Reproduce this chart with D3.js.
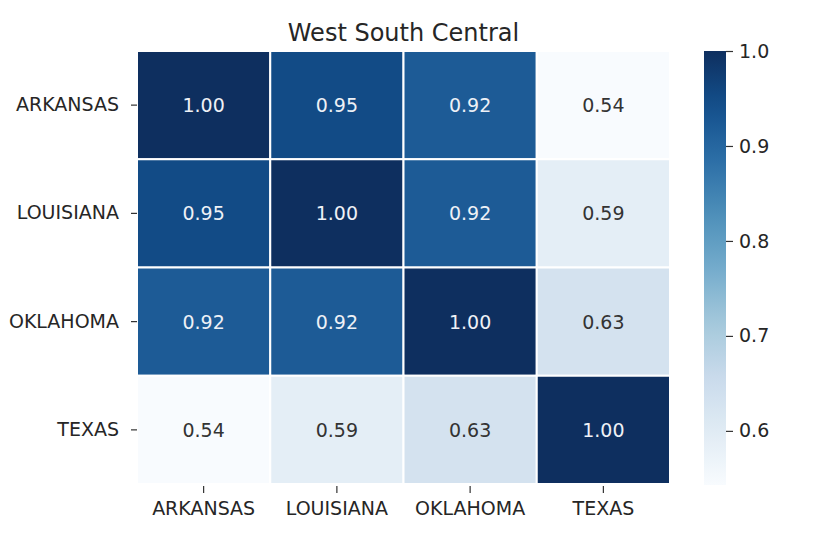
<!DOCTYPE html>
<html><head><meta charset="utf-8">
<script src="https://cdn.jsdelivr.net/npm/d3@7"></script>
<style>body{margin:0;background:#fff;} text{font-family:"DejaVu Sans",sans-serif;}</style>
</head><body>
<svg id="c" width="832" height="544"></svg>
<script>
const title = "West South Central";
const states = ["ARKANSAS","LOUISIANA","OKLAHOMA","TEXAS"];
const corr = [
  [1.00,0.95,0.92,0.54],
  [0.95,1.00,0.92,0.59],
  [0.92,0.92,1.00,0.63],
  [0.54,0.59,0.63,1.00]
];
const cbarTicks = [0.6,0.7,0.8,0.9,1.0];
const vmin = 0.543, vmax = 1.0;
const bluesStops = ["#f7fbff","#deebf7","#c6dbef","#9ecae1","#6baed6","#4292c6","#2171b5","#08519c","#08306b"];

const svg = d3.select("#c");
const L=137, R=670, T=51, B=484;
const x = d3.scaleBand().domain(states).range([L,R]).padding(0);
const y = d3.scaleBand().domain(states).range([T,B]).padding(0);
// slightly desaturated Blues to match the reference rendering
const desat = c => { const r=d3.rgb(c); const g=0.3*r.r+0.59*r.g+0.11*r.b; const k=0.18;
  return d3.rgb(r.r*(1-k)+g*k, r.g*(1-k)+g*k, r.b*(1-k)+g*k).formatHex(); };
const interp = d3.piecewise(d3.interpolateRgb, bluesStops.map(desat));
const norm = d3.scaleLinear().domain([vmin,vmax]).range([0,1]).clamp(true);
const color = v => interp(norm(v));

const cells = [];
corr.forEach((row,i)=>row.forEach((v,j)=>cells.push({r:states[i],c:states[j],v})));

svg.append("g").selectAll("rect").data(cells).join("rect")
  .attr("x",d=>x(d.c)).attr("y",d=>y(d.r))
  .attr("width",x.bandwidth()).attr("height",y.bandwidth())
  .attr("fill",d=>color(d.v)).attr("stroke","#fff").attr("stroke-width",2);

svg.append("g").selectAll("text").data(cells).join("text")
  .attr("x",d=>x(d.c)+x.bandwidth()/2).attr("y",d=>y(d.r)+y.bandwidth()/2+7)
  .attr("text-anchor","middle")
  .attr("font-size",19)
  .attr("fill",d=>norm(d.v)>0.5?"#eef1f6":"#333333")
  .text(d=>d.v.toFixed(2));

// axes
const xAxis = svg.append("g").attr("transform",`translate(0,${B+2})`)
  .call(d3.axisBottom(x).tickSize(7).tickPadding(9));
const yAxis = svg.append("g").attr("transform",`translate(${L},0)`)
  .call(d3.axisLeft(y).tickSize(6).tickPadding(12));
[xAxis,yAxis].forEach(a=>{
  a.select(".domain").remove();
  a.selectAll("line").attr("stroke","#333").attr("stroke-width",1.2);
  a.selectAll("text").attr("font-size",19).attr("fill","#262626").attr("font-family","DejaVu Sans, sans-serif");
});

// title
svg.append("text").attr("x",(L+R)/2).attr("y",41).attr("text-anchor","middle")
  .attr("font-size",24).attr("fill","#262626").text(title);

// colorbar
const cx0=704, cw=22;
const cy = d3.scaleLinear().domain([vmin,vmax]).range([B+1,T]);
const defs = svg.append("defs");
const grad = defs.append("linearGradient").attr("id","cb").attr("x1",0).attr("x2",0).attr("y1",1).attr("y2",0);
d3.range(0,1.0001,0.05).forEach(t=>grad.append("stop").attr("offset",t).attr("stop-color",interp(t)));
svg.append("rect").attr("x",cx0).attr("y",T).attr("width",cw).attr("height",B+1-T).attr("fill","url(#cb)");
const cAxis = svg.append("g").attr("transform",`translate(${cx0+cw},0)`)
  .call(d3.axisRight(cy).tickValues(cbarTicks).tickFormat(d3.format(".1f")).tickSize(7).tickPadding(6));
cAxis.select(".domain").remove();
cAxis.selectAll("line").attr("stroke","#333").attr("stroke-width",1.2);
cAxis.selectAll("text").attr("font-size",19).attr("fill","#262626").attr("font-family","DejaVu Sans, sans-serif");
</script>
</body></html>
